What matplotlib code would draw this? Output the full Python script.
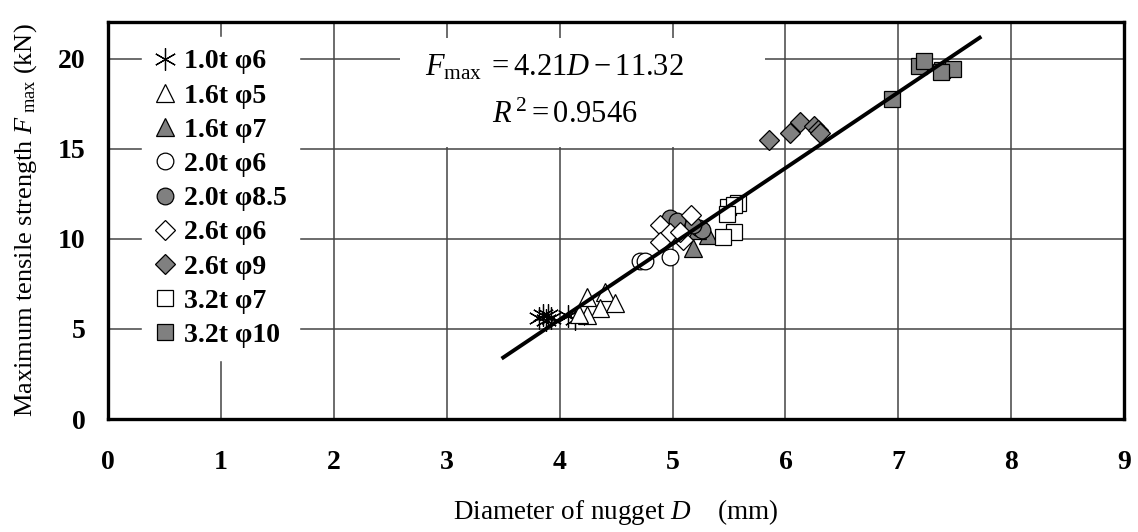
import numpy as np
import matplotlib
matplotlib.use('Agg')
import matplotlib.pyplot as plt
from matplotlib.patches import Rectangle

plt.rcParams['font.family'] = ['Liberation Serif', 'DejaVu Serif']
plt.rcParams['mathtext.fontset'] = 'custom'
plt.rcParams['mathtext.rm'] = 'Liberation Serif'
plt.rcParams['mathtext.it'] = 'Liberation Serif:italic'
plt.rcParams['mathtext.bf'] = 'Liberation Serif:bold'

# nugget diameter D (mm) and max tensile strength (kN) per condition
d_10t6 = [3.82, 3.85, 3.88, 3.90, 3.92, 4.07, 4.14]
f_10t6 = [5.6, 5.8, 5.5, 5.75, 5.6, 5.7, 5.55]
d_16t5 = [4.24, 4.40, 4.36, 4.49, 4.24, 4.17]
f_16t5 = [6.8, 7.06, 6.17, 6.44, 5.8, 5.85]
d_16t7 = [5.18, 5.31, 5.22]
f_16t7 = [9.5, 10.22, 10.5]
d_20t6 = [4.71, 4.76, 4.98]
f_20t6 = [8.75, 8.8, 9.0]
d_20t85 = [4.98, 5.04, 5.23, 5.26, 5.18]
f_20t85 = [11.17, 11.0, 10.6, 10.5, 10.8]
d_26t6 = [4.89, 4.98, 4.89, 5.16, 5.09, 5.07]
f_26t6 = [10.78, 10.33, 9.83, 11.33, 9.94, 10.4]
d_26t9 = [5.85, 6.04, 6.13, 6.25, 6.29, 6.31]
f_26t9 = [15.5, 15.9, 16.5, 16.3, 16.06, 15.9]
d_32t7 = [5.49, 5.58, 5.54, 5.54, 5.45, 5.48]
f_32t7 = [11.8, 12.0, 11.9, 10.4, 10.1, 11.4]
d_32t10 = [6.94, 7.18, 7.23, 7.39, 7.48, 7.38]
f_32t10 = [17.8, 19.6, 19.9, 19.4, 19.44, 19.3]

labels = ['1.0t φ6', '1.6t φ5', '1.6t φ7', '2.0t φ6', '2.0t φ8.5',
          '2.6t φ6', '2.6t φ9', '3.2t φ7', '3.2t φ10']

# regression line
slope = 4.21
intercept = -11.32
fit_x = [3.5, 7.72]

gray = '#808080'
series = [
    (d_10t6, f_10t6, (6, 2, 0), 'none', 16),
    (d_16t5, f_16t5, '^', 'white', 13),
    (d_16t7, f_16t7, '^', gray, 13),
    (d_20t6, f_20t6, 'o', 'white', 12),
    (d_20t85, f_20t85, 'o', gray, 12),
    (d_26t6, f_26t6, 'D', 'white', 10),
    (d_26t9, f_26t9, 'D', gray, 10),
    (d_32t7, f_32t7, 's', 'white', 12),
    (d_32t10, f_32t10, 's', gray, 12),
]

fig = plt.figure(figsize=(11.38, 5.32), dpi=100)
ax = fig.add_axes([0.0949, 0.2124, 0.893, 0.7462])

for (dx, fy, mk, fc, ms), lab in zip(series, labels):
    ax.plot(dx, fy, linestyle='none', marker=mk, markersize=ms,
            markerfacecolor=fc, markeredgecolor='black', markeredgewidth=0.9,
            color='black', label=lab, zorder=3)

fx = np.array(fit_x)
ax.plot(fx, slope * fx + intercept, color='black', linewidth=2.8, zorder=4)

ax.set_xlim(0, 9)
ax.set_ylim(0, 22.05)
ax.set_xticks(range(0, 10))
ax.set_yticks([0, 5, 10, 15, 20])
ax.set_axisbelow(True)
ax.grid(True, color='#444444', linewidth=1.1)
ax.tick_params(length=0, labelsize=20, pad=16)
for t in ax.get_xticklabels() + ax.get_yticklabels():
    t.set_fontweight('bold')
ax.tick_params(axis='x', pad=22)
for s in ax.spines.values():
    s.set_linewidth(2.4)

# white box behind the equation
ax.add_patch(Rectangle((0.287, 0.685), 0.36, 0.275, transform=ax.transAxes,
                       facecolor='white', edgecolor='none', zorder=1))
ax.text(0.312, 0.885, r'$F_{\mathrm{max}}\; = 4.21D - 11.32$', transform=ax.transAxes,
        fontsize=22, ha='left', va='center', zorder=5)
ax.text(0.378, 0.765, r'$R^{\,2} = 0.9546$', transform=ax.transAxes,
        fontsize=22, ha='left', va='center', zorder=5)

leg = ax.legend(loc='upper left', bbox_to_anchor=(0.033, 0.962), frameon=True,
                facecolor='white', edgecolor='white', framealpha=1,
                fancybox=False, handlelength=0.8, handletextpad=0.3,
                labelspacing=0.315, borderpad=0.43, borderaxespad=0,
                prop={'weight': 'bold', 'size': 20})
leg.set_zorder(2)

ax.set_xlabel(r'Diameter of nugget $D$    (mm)', fontsize=19.5, labelpad=16)
ax.set_ylabel(r'Maximum tensile strength $F_{\ \mathrm{max}}$ (kN)', fontsize=19, labelpad=14)

fig.savefig('out.png', dpi=100)
